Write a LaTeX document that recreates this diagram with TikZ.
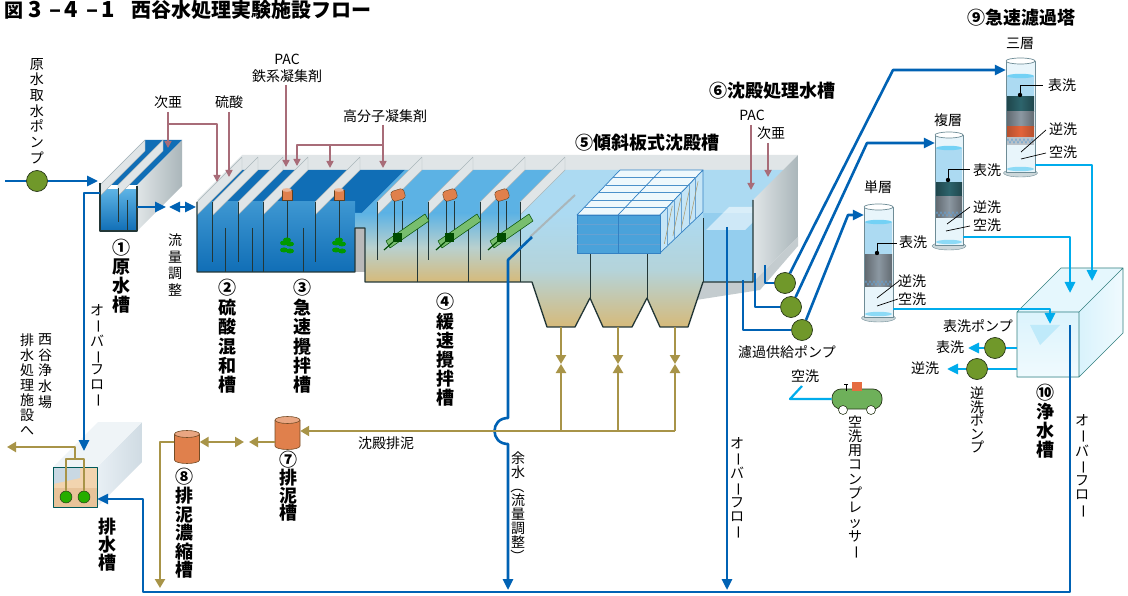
\documentclass[tikz,border=0pt]{standalone}
\usepackage{fontspec}
\usepackage{graphicx}
\newfontfamily\jp{Noto Sans CJK JP}
\usetikzlibrary{arrows.meta,calc,decorations.pathmorphing}

\definecolor{pipeblue}{RGB}{0,98,180}
\definecolor{pipecyan}{RGB}{0,172,236}
\definecolor{sludge}{RGB}{168,148,72}
\definecolor{chem}{RGB}{168,108,120}
\definecolor{pumpgreen}{RGB}{112,152,42}
\definecolor{pumpedge}{RGB}{40,55,25}
\definecolor{wdeep}{RGB}{16,110,182}
\definecolor{wmid}{RGB}{92,178,228}
\definecolor{wlight}{RGB}{172,218,242}
\definecolor{sand}{RGB}{214,186,122}
\definecolor{wallgray}{RGB}{224,229,231}
\definecolor{wallshade}{RGB}{170,182,186}
\definecolor{edgec}{RGB}{35,55,55}
\definecolor{mudorange}{RGB}{224,128,76}
\definecolor{media}{RGB}{140,152,162}
\definecolor{mediadark}{RGB}{45,100,108}
\definecolor{mediaorange}{RGB}{226,100,58}
\definecolor{glass}{RGB}{232,245,251}
\definecolor{glassedge}{RGB}{110,140,150}
\definecolor{compgreen}{RGB}{110,176,90}
\definecolor{mixgreen}{RGB}{120,190,110}
\definecolor{drainbeige}{RGB}{242,212,175}

\newcommand\vbar{\rotatebox[origin=c]{-90}{ー}}
\newcommand\vlpar{\rotatebox[origin=c]{-90}{（}}
\newcommand\vrpar{\rotatebox[origin=c]{-90}{）}}

\tikzset{
  lab/.style={font=\jp\fontsize{14}{15}\selectfont, inner sep=0pt},
  vlab/.style={inner sep=0pt, align=center, font=\jp\fontsize{14}{#1}\selectfont},
  vlab/.default=15,
  big/.style={inner sep=0pt, font=\jp\bfseries\fontsize{18}{20}\selectfont},
  vbig/.style={inner sep=0pt, align=center, font=\jp\bfseries\fontsize{18}{#1}\selectfont},
  vbig/.default=19,
  bpipe/.style={draw=pipeblue, line width=2.6pt},
  cpipe/.style={draw=pipecyan, line width=2.6pt},
  spipe/.style={draw=sludge, line width=2.4pt},
  chemline/.style={draw=chem, line width=1.6pt, -{Triangle[length=7pt,width=7pt]}},
  ba/.style={-{Triangle[length=11pt,width=10pt]}},
  bab/.style={{Triangle[length=11pt,width=10pt]}-{Triangle[length=11pt,width=10pt]}},
  sa/.style={-{Triangle[length=9pt,width=10pt]}},
  sab/.style={{Triangle[length=9pt,width=10pt]}-{Triangle[length=9pt,width=10pt]}},
  pump/.style={circle, fill=pumpgreen, draw=pumpedge, line width=0.7pt, minimum size=21pt, inner sep=0pt},
  tankline/.style={draw=edgec, line width=1.3pt},
  wallpanel/.style={fill=wallgray, draw=wallshade, line width=0.4pt},
  ptr/.style={draw=black, line width=0.7pt},
}

\begin{document}
\begin{tikzpicture}[x=1pt,y=-1pt,line join=round]
\useasboundingbox (0,0) rectangle (1128,596);
\fill[white] (0,0) rectangle (1128,596);

% ---------- title ----------
\node[anchor=west, inner sep=0, font=\jp\bfseries\fontsize{19}{20}\selectfont] (titlenum) at (4,10) {図\hspace{5pt}{\fontsize{22}{22}\selectfont 3\hspace{8pt}–\hspace{3pt}4\hspace{8pt}–\hspace{3pt}1}};
\node[anchor=west, inner sep=0, font=\jp\bfseries\fontsize{20}{20}\selectfont] (title) at (131,10) {西谷水処理実験施設フロー};

% ---------- raw water tank (1) ----------
\shade[left color=wallgray, right color=wallshade] (137,185) -- (182,140) -- (182,186) -- (137,231) -- cycle;
\fill[wdeep] (100,185) -- (137,185) -- (182,140) -- (145,140) -- cycle;
\shade[top color=wmid, bottom color=wdeep] (100,190) rectangle (137,231);
\foreach \p in {100,118} \fill[wallpanel] (\p,185) -- (\p+45,140) -- (\p+45,151) -- (\p,196) -- cycle;
\draw[tankline] (100,183) -- (100,231) -- (137,231) -- (137,186);
\draw[tankline, line width=1pt] (118,188) -- (118,222) (127,200) -- (127,231);
\node[inner sep=0, minimum width=37pt, minimum height=46pt] (tank1) at (118.5,208) {};

% ---------- main basin: back rim and water surfaces ----------
\fill[wallgray] (197,200) -- (753,200) -- (798,155) -- (242,155) -- cycle;
\fill[wdeep] (197,215) -- (360,215) -- (405,170) -- (242,170) -- cycle;
\fill[wmid] (360,215) -- (520,215) -- (565,170) -- (405,170) -- cycle;
\fill[wlight] (520,215) -- (753,215) -- (798,170) -- (565,170) -- cycle;

% front faces
\shade[top color=wmid!60!wdeep, bottom color=wdeep] (197,202) rectangle (355,272);
\shade[top color=wmid, bottom color=sand, middle color=wlight!70!sand] (355,213) -- (520,213) -- (520,282) -- (365,282) -- (365,228) -- (355,228) -- cycle;
\fill[gray!55] (355,228) rectangle (365,272);
\shade[top color=wlight, bottom color=sand, middle color=wlight!80!sand] (520,213) -- (703,213) -- (703,282) -- (688,327) -- (660,327) -- (647,298) -- (632,327) -- (603,327) -- (590,298) -- (575,327) -- (547,327) -- (532,282) -- (520,282) -- cycle;
\fill[wlight!70!wmid] (703,213) rectangle (753,282);
\fill[white, opacity=0.55] (706,230) -- (745,230) -- (768,207) -- (729,207) -- cycle;
\shade[left color=wallgray, right color=wallshade] (753,200) -- (798,155) -- (798,237) -- (753,282) -- cycle;
\fill[wallshade!70] (703,282) -- (753,282) -- (798,237) -- (798,246) -- (760,290) -- (696,300) -- cycle;

% partition walls
\foreach \p in {197,213,238,263,315,377,428,480,520}
  \fill[wallpanel] (\p,202) -- (\p+45,157) -- (\p+45,170) -- (\p,215) -- cycle;
\foreach \x/\a/\b in {212/202/262, 225/228/272, 238/202/262, 252/228/272, 263/202/272, 303/228/272, 315/202/262,
                      377/202/260, 417/228/282, 428/202/260, 468/228/282, 480/202/260, 520/202/282,
                      590/253/298, 647/253/298, 703/218/282}
  \draw[tankline, line width=1pt] (\x,\a) -- (\x,\b);
\draw[tankline] (197,202) -- (197,272) -- (355,272) -- (355,228) -- (365,228) -- (365,282) -- (532,282) -- (547,327) -- (575,327) -- (590,298) -- (603,327) -- (632,327) -- (647,298) -- (660,327) -- (688,327) -- (703,282) -- (753,282) -- (753,200);

% rapid mixers (3)
\foreach \m in {287,339} {
  \draw[edgec, line width=0.6pt] (\m,200) -- (\m,240);
  \filldraw[fill=mudorange, draw=brown!50!black, line width=0.4pt] (\m-5,190) rectangle (\m+5,200);
  \fill[mudorange!60!white] (\m,190) ellipse (5 and 1.8);
  \fill[green!60!black] (\m,240) ellipse (4 and 2.5);
  \fill[green!60!black] (\m-3,243) ellipse (4 and 2.5);
  \fill[green!60!black] (\m+3,244) ellipse (4 and 2.5);
  \fill[green!60!black] (\m-3,250) ellipse (4 and 2.5);
  \fill[green!60!black] (\m+3,251) ellipse (4 and 2.5);
}
% slow mixers (4)
\foreach \m in {398,450,502} {
  \draw[edgec, line width=0.5pt] (\m-4,201) -- (\m-4,236) (\m+4,201) -- (\m+4,236);
  \filldraw[fill=mudorange, draw=brown!50!black, line width=0.4pt, rounded corners=3pt] (\m-8,192) -- (\m+5,188) -- (\m+8,198) -- (\m-5,202) -- cycle;
  \filldraw[fill=mixgreen, draw=green!30!black, line width=0.5pt] (\m-12,241) -- (\m+27,214) -- (\m+31,221) -- (\m-8,248) -- cycle;
  \fill[green!30!black] (\m-5,233) rectangle (\m+4,242);
  \draw[green!30!black, line width=1.2pt] (\m-5,242) -- (\m-14,250);
}

% inclined-plate settler block (5)
\draw[wallshade, line width=2pt] (530,237) -- (575,195);
\filldraw[fill=white!80!wlight, draw=pipeblue!80, line width=0.7pt] (577,215) -- (660,215) -- (703,170) -- (620,170) -- cycle;
\foreach \f in {0.17,0.33,0.5,0.67,0.83}
  \draw[pipeblue!70, line width=0.6pt] (577+43*\f,215-45*\f) -- (660+43*\f,215-45*\f);
\draw[pipeblue!80, line width=0.7pt] (618,215) -- (661,170);
\filldraw[fill=wlight!70!white, draw=pipeblue!80, line width=0.7pt] (660,215) -- (703,170) -- (703,212) -- (660,253) -- cycle;
\foreach \f in {0.17,0.33,0.5,0.67,0.83}
  \draw[pipeblue!60, line width=0.5pt] (660+43*\f,215-45*\f) -- (660+43*\f,253-41*\f);
\foreach \f in {0.1,0.3,0.5,0.7}
  \draw[sand!80!black, line width=0.5pt] (660+43*\f,248-41*\f) -- (660+43*\f+8,240-41*\f-30);
\filldraw[fill=wmid!80!pipeblue, draw=pipeblue!80, line width=0.7pt] (577,215) rectangle (660,253);
\foreach \yy in {224,234,244} \draw[pipeblue!60!white, line width=0.6pt] (577,\yy) -- (660,\yy);
\draw[pipeblue!80, line width=0.7pt] (618,215) -- (618,253);

% ---------- sludge tanks (7) (8) ----------
\foreach \cx/\yt/\yb/\nm in {287.5/420/446/sl7, 187/434/460/sl8} {
  \filldraw[fill=mudorange, draw=brown!60!black, line width=0.6pt] (\cx-12.5,\yt) -- (\cx-12.5,\yb) arc[start angle=180, end angle=360, x radius=12.5, y radius=-3.5] -- (\cx+12.5,\yt);
  \filldraw[fill=mudorange!70!white, draw=brown!60!black, line width=0.6pt] (\cx,\yt) ellipse (12.5 and 3.5);
  \node[inner sep=0, minimum width=25pt, minimum height=26pt] (\nm) at (\cx,{(\yt+\yb)/2}) {};
}

% ---------- drain tank ----------
\shade[left color=wallgray!80!pipeblue!30, right color=wallshade!80!pipeblue!40] (97,467) -- (142,422) -- (142,462) -- (97,507) -- cycle;
\fill[wallgray!85!pipeblue!25] (53,467) -- (97,467) -- (142,422) -- (98,422) -- cycle;
\fill[drainbeige] (53,467) rectangle (97,507);
\fill[wallshade!70!pipeblue!40] (53,467) -- (80,467) -- (80,478) -- (53,484) -- cycle;
\fill[drainbeige!80!brown] (53,488) rectangle (97,507);
\draw[draw=teal!70!black, line width=1pt] (53,467) rectangle (97,507);
\node[inner sep=0, minimum width=44pt, minimum height=40pt] (drain) at (75,487) {};
\node[circle, fill=green!60!black!80!lime, draw=pumpedge, line width=0.5pt, minimum size=12pt, inner sep=0] (dp1) at (66,497) {};
\node[circle, fill=green!60!black!80!lime, draw=pumpedge, line width=0.5pt, minimum size=12pt, inner sep=0] (dp2) at (84,497) {};

% ---------- clean water tank (10) ----------
\shade[left color=pipecyan!15, right color=pipecyan!6] (1079,312) -- (1123,268) -- (1123,333) -- (1079,377) -- cycle;
\fill[pipecyan!10] (1017,312) -- (1079,312) -- (1123,268) -- (1061,268) -- cycle;
\shade[top color=pipecyan!14, bottom color=pipecyan!6] (1017,312) rectangle (1079,377);
\fill[pipecyan!25] (1030,325) -- (1060,325) -- (1040,345) -- cycle;
\draw[draw=teal!60!gray, line width=0.6pt] (1017,312) rectangle (1079,377) (1017,312) -- (1061,268) -- (1123,268) -- (1079,312) (1123,268) -- (1123,333) -- (1079,377);
\node[inner sep=0, minimum width=62pt, minimum height=65pt] (clean) at (1048,344.5) {};

% ---------- filter towers (9) ----------
% single layer
\filldraw[fill=glassedge!35!white, draw=glassedge] (878.5,318) ellipse (17 and 4);
\filldraw[fill=glass, draw=glassedge, line width=0.8pt] (864,207) rectangle (893,317);
\fill[wlight] (865,222) rectangle (892,255);
\fill[pipecyan!55!white] (878.5,222) ellipse (13.5 and 2.2);
\shade[left color=media!70!black, right color=media!70!black, middle color=media] (865,255) rectangle (892,287);
\draw[pipeblue!60, decorate, decoration={zigzag, segment length=4pt, amplitude=2.5pt}] (865,283) -- (892,283);
\fill[pipecyan!45!white] (878.5,314) ellipse (13.5 and 2.2);
\filldraw[fill=white, draw=glassedge, line width=0.7pt] (878.5,207) ellipse (14.5 and 3);
% multi layer
\filldraw[fill=glassedge!35!white, draw=glassedge] (949,246) ellipse (17 and 4);
\filldraw[fill=glass, draw=glassedge, line width=0.8pt] (935,135) rectangle (963,245);
\fill[wlight] (936,148) rectangle (962,183);
\fill[pipecyan!55!white] (949,148) ellipse (13 and 2.2);
\shade[left color=mediadark!70!black, right color=mediadark!70!black, middle color=mediadark] (936,183) rectangle (962,197);
\shade[left color=media!70!black, right color=media!70!black, middle color=media] (936,197) rectangle (962,218);
\draw[pipeblue!60, decorate, decoration={zigzag, segment length=4pt, amplitude=2.5pt}] (936,214) -- (962,214);
\fill[pipecyan!45!white] (949,242) ellipse (13 and 2.2);
\filldraw[fill=white, draw=glassedge, line width=0.7pt] (949,135) ellipse (14 and 3);
% triple layer
\filldraw[fill=glassedge!35!white, draw=glassedge] (1020.5,173) ellipse (17 and 4);
\filldraw[fill=glass, draw=glassedge, line width=0.8pt] (1006,61) rectangle (1035,172);
\fill[wlight] (1007,76) rectangle (1034,97);
\fill[pipecyan!55!white] (1020.5,76) ellipse (13.5 and 2.2);
\shade[left color=mediadark!70!black, right color=mediadark!70!black, middle color=mediadark] (1007,97) rectangle (1034,112);
\shade[left color=media!70!black, right color=media!70!black, middle color=media] (1007,112) rectangle (1034,127);
\shade[left color=mediaorange!80!black, right color=mediaorange!80!black, middle color=mediaorange] (1007,127) rectangle (1034,137);
\fill[media!60!white] (1007,137) rectangle (1034,145);
\draw[pipeblue!60, decorate, decoration={zigzag, segment length=4pt, amplitude=2.5pt}] (1007,141) -- (1034,141);
\fill[pipecyan!45!white] (1020.5,169) ellipse (13.5 and 2.2);
\filldraw[fill=white, draw=glassedge, line width=0.7pt] (1020.5,61) ellipse (14.5 and 3);

\node[inner sep=0, minimum width=29pt, minimum height=111pt] (fsingle) at (878.5,262.5) {};
\node[inner sep=0, minimum width=28pt, minimum height=111pt] (fmulti) at (949,190.5) {};
\node[inner sep=0, minimum width=29pt, minimum height=112pt] (ftriple) at (1020.5,117) {};

% pointers inside the towers
\fill (877,253) circle (2.2); \draw[ptr] (877,253) -- (877,243) -- (897,243);
\draw[ptr] (877,298) -- (899,281); \draw[ptr] (877,306) -- (898,299);
\fill (948,180) circle (2.2); \draw[ptr] (948,180) -- (948,169) -- (970,169);
\draw[ptr] (947,224) -- (970,207); \draw[ptr] (946,231) -- (970,226);
\fill (1020,95) circle (2.2); \draw[ptr] (1020,95) -- (1020,85) -- (1043,85);
\draw[ptr] (1021,152) -- (1046,130); \draw[ptr] (1021,159) -- (1046,153);

% ---------- compressor ----------
\node[draw=pumpedge, line width=0.7pt, fill=compgreen, rounded corners=9pt, minimum width=50pt, minimum height=20pt, inner sep=0] (comp) at (857,399) {};
\fill[mudorange!85!red] (852,382) rectangle (862,391);
\draw[line width=0.6pt] (846,391) -- (846,384) (844,384) -- (848,384);
\filldraw[fill=white, draw=pumpedge, line width=0.6pt] (843,410) circle (4.5) (871,410) circle (4.5);

% ---------- pumps ----------
\node[pump] (prw) at (37,181) {};
\node[pump] (pf1) at (785,283) {};
\node[pump] (pf2) at (791,307) {};
\node[pump] (pf3) at (802,330) {};
\node[pump] (psw) at (995,348) {};
\node[pump] (pbw) at (977,369) {};

% ---------- chemical dosing ----------
\draw[chemline] (168,112) -- (168,148);
\draw[chemline] (168,124) -- (217,124) -- (217,182);
\draw[chemline] (229,112) -- (229,177);
\draw[chemline] (286,85) -- (286,167);
\draw[chemline] (383,125) -- (383,168);
\draw[chemline] (383,145) -- (297,145) -- (297,166);
\draw[chemline] (330,145) -- (330,168);
\draw[chemline] (751,125) -- (751,190);
\draw[chemline] (768,143) -- (768,177);

% ---------- water piping ----------
\coordinate (rawin) at (5,181);
\coordinate (t1in) at (98,181);
\draw[bpipe] (rawin) -- (prw);
\draw[bpipe, ba] (prw) -- (t1in);
\draw[bpipe, ba] (tank1.east |- 0,207) -- (166,207);
\draw[bpipe, bab] (169,207) -- (196,207);
\draw[bpipe, ba] (100,193) -- (84,193) -- (84,451);

\draw[bpipe] (765,265) -- (765,283) -- (pf1);
\draw[bpipe] (755,273) -- (755,307) -- (pf2);
\draw[bpipe] (743,280) -- (743,330) -- (pf3);
\draw[bpipe, ba] (pf1) -- (893,70) -- (ftriple.west |- 0,70);
\draw[bpipe, ba] (pf2) -- (867,143) -- (fmulti.west |- 0,143);
\draw[bpipe, ba] (pf3) -- (848,215) -- (fsingle.west |- 0,215);

\draw[cpipe, ba] (1035,165) -- (1092,165) -- (1092,281);
\draw[cpipe, ba] (963,237) -- (1070,237) -- (1070,293);
\draw[cpipe, ba] (893,309) -- (1050,309) -- (1050,324);
\draw[cpipe] (clean.west |- 0,348) -- (psw);
\draw[cpipe, ba] (psw) -- (968,348);
\draw[cpipe] (clean.west |- 0,369) -- (pbw);
\draw[cpipe, ba] (pbw) -- (947,369);
\draw[cpipe, line width=2.2pt] (comp.west) -- (790,399) -- (802,386);

\draw[bpipe, ba] (532,237) -- (508,260) -- (508,418) .. controls (490,418) and (490,444) .. (508,444) -- (508,590);
\draw[bpipe, ba] (727,227) -- (727,590);
\draw[bpipe, ba] (1070,325) -- (1070,592) -- (143,592) -- (143,499) -- (drain.east |- 0,499);

% ---------- sludge piping ----------
\foreach \hx in {561,618,675} {
  \draw[spipe, sa] (\hx,327) -- (\hx,364);
  \draw[spipe, sa] (\hx,431) -- (\hx,364);
}
\draw[spipe, sa] (675,431) -- (sl7.east |- 0,431);
\draw[spipe, sa] (sl7.west |- 0,442) -- (249,442);
\draw[spipe, sab] (244,442) -- (sl8.east |- 0,442);
\draw[spipe, sa] (sl8.west |- 0,442) -- (160,442) -- (160,588);
\draw[spipe] (dp1) -- (66,459) -- (84,459) -- (dp2);
\draw[spipe, sa] (75,459) -- (75,447) -- (7,447);

% ---------- labels ----------
\node[vlab=15.7] (lrawpump) at (37,111) {原\\水\\取\\水\\ポ\\ン\\プ};
\node[vlab=16.5] (lflow) at (175,265) {流\\量\\調\\整};
\node[vlab=14.2] (lov1) at (97,356) {オ\\\vbar\\バ\\\vbar\\フ\\ロ\\\vbar};
\node[vlab=15.75] (lnishi) at (45,371) {西\\谷\\浄\\水\\場};
\node[vlab=15] (ldrainto) at (27,385) {排\\水\\処\\理\\施\\設\\へ};
\node[vlab=14.1] (lyosui) at (518,507.5) {余\\水\\\vlpar\\流\\量\\調\\整\\\vrpar};
\node[vlab=13.8] (lov2) at (737,488.5) {オ\\\vbar\\バ\\\vbar\\フ\\ロ\\\vbar};
\node[vlab=14.3] (lcomp) at (855,487.5) {空\\洗\\用\\コ\\ン\\プ\\レ\\ッ\\サ\\\vbar};
\node[vlab=13.5] (lbwpump) at (977,420) {逆\\洗\\ポ\\ン\\プ};
\node[vlab=14.5] (lov3) at (1082,466.5) {オ\\\vbar\\バ\\\vbar\\フ\\ロ\\\vbar};

\node[vbig=19] (n1) at (121,276.5) {①\\原\\水\\槽};
\node[vbig=19.4] (n2) at (227,336.5) {②\\硫\\酸\\混\\和\\槽};
\node[vbig=19.4] (n3) at (302,336.5) {③\\急\\速\\攪\\拌\\槽};
\node[vbig=19.2] (n4) at (445,350) {④\\緩\\速\\攪\\拌\\槽};
\node[vbig=17.7] (n7) at (288,486.5) {⑦\\排\\泥\\槽};
\node[vbig=18.6] (n8) at (184,523.5) {⑧\\排\\泥\\濃\\縮\\槽};
\node[vbig=18] (ndrain) at (107,545) {排\\水\\槽};
\node[vbig=19] (n10) at (1045,421.5) {⑩\\浄\\水\\槽};

\node[big] (n5) at (647,143) {⑤傾斜板式沈殿槽};
\node[big] (n6) at (772,91) {⑥沈殿処理水槽};
\node[big] (n9) at (1021,18) {⑨急速濾過塔};

\node[lab] (lhypo1) at (168,102) {次亜};
\node[lab] (lacid) at (229,102) {硫酸};
\node[lab] (lpac1) at (287,59) {PAC};
\node[lab] (liron) at (287,76) {鉄系凝集剤};
\node[lab] (lpoly) at (385,116) {高分子凝集剤};
\node[lab] (lpac2) at (752,115) {PAC};
\node[lab] (lhypo2) at (771,133) {次亜};
\node[lab] (lsludge) at (386,443) {沈殿排泥};
\node[lab] (lfeed) at (787,352) {濾過供給ポンプ};
\node[lab] (lair) at (805,376) {空洗};
\node[lab] (lswpump) at (978,326) {表洗ポンプ};
\node[lab] (lsw) at (950,347) {表洗};
\node[lab] (lbw) at (925,368) {逆洗};
\node[lab] (lsingle) at (878,187) {単層};
\node[lab] (lmulti) at (948,120) {複層};
\node[lab] (ltriple) at (1020,44) {三層};
\node[lab] (s1) at (913,242) {表洗};
\node[lab] (s2) at (912,281) {逆洗};
\node[lab] (s3) at (912,299) {空洗};
\node[lab] (m1) at (987,170) {表洗};
\node[lab] (m2) at (987,207) {逆洗};
\node[lab] (m3) at (987,225) {空洗};
\node[lab] (t1l) at (1062,85) {表洗};
\node[lab] (t2l) at (1063,129) {逆洗};
\node[lab] (t3l) at (1063,152) {空洗};
\end{tikzpicture}
\end{document}
